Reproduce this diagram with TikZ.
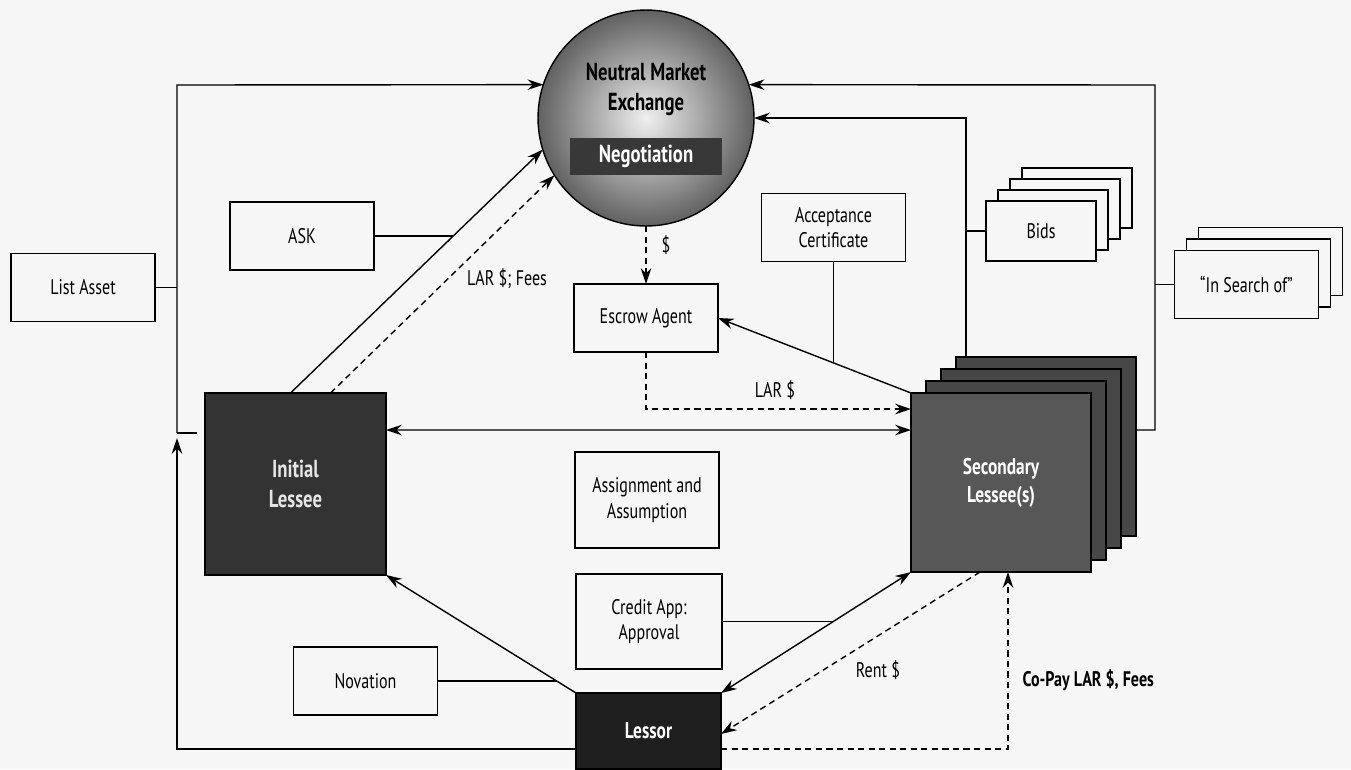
\documentclass[tikz,border=0pt]{standalone}
\usepackage{fontspec}
\setmainfont{PT Sans}[FakeStretch=0.76]
\usetikzlibrary{arrows.meta,calc}
\tikzset{>={Stealth[length=9pt,width=6pt]}}
\tikzset{
  box/.style={draw, line width=0.9pt, fill=gray!7, align=center, inner sep=0pt, outer sep=0pt,
    minimum width=2.88cm, minimum height=1.36cm, font=\fontsize{12}{14.4}\selectfont},
  darkbox/.style={draw=black, line width=0.9pt, fill=black!80, text=white!90!black, align=center,
    inner sep=0pt, outer sep=0pt, font=\bfseries\fontsize{14}{17}\selectfont},
  lbl/.style={inner sep=0pt, font=\fontsize{12}{14.4}\selectfont},
  money/.style={dash pattern=on 3.5pt off 2.5pt}
}

\begin{document}
\begin{tikzpicture}[x=0.02cm, y=-0.02cm, line width=0.8pt]
  \path[use as bounding box, fill=gray!7] (0,0) rectangle (1351,769);

  % the exchange
  \node[circle, draw, minimum size=4.32cm, inner sep=0pt, outer sep=0pt,
    inner color=gray!12, outer color=black!62] (nme) at (646,118) {};
  \node[align=center, font=\bfseries\fontsize{14}{17}\selectfont] (nmetitle) at (646,89) {Neutral Market\\Exchange};
  \node[fill=black!78, text=white, minimum width=3.04cm, minimum height=0.74cm, inner sep=0pt,
    font=\bfseries\fontsize{14}{17}\selectfont] (nego) at (646,156) {Negotiation};

  \node[box] (listasset) at (83,287.5) {List Asset};
  \node[box] (ask) at (302,236) {ASK};
  \node[box] (escrow) at (646,318) {Escrow Agent};
  \node[box] (accept) at (833.5,227.5) {Acceptance\\Certificate};
  \node[box, minimum height=1.92cm] (assign) at (647,500) {Assignment and\\Assumption};
  \node[box, minimum width=2.92cm, minimum height=1.9cm] (credit) at (649,621.5) {Credit App:\\Approval};
  \node[box] (novation) at (365.5,681) {Novation};

  \node[darkbox, minimum width=3.62cm, minimum height=3.64cm] (initial) at (295.5,484) {Initial\\Lessee};
  \node[darkbox, fill=black!88, text=white, minimum width=2.9cm, minimum height=1.52cm,
    font=\bfseries\fontsize{13}{15.6}\selectfont] (lessor) at (648.5,731) {Lessor};

  % stacks
  \foreach \k in {3,2,1}
    \node[darkbox, fill=black!72, minimum width=3.6cm, minimum height=3.58cm] (sec\k) at ($(1001,482.5)+\k*(15,-12)$) {};
  \node[darkbox, fill=black!66, text=white, minimum width=3.6cm, minimum height=3.58cm,
    font=\bfseries\fontsize{13}{16}\selectfont] (sec) at (1001,482.5) {Secondary\\Lessee(s)};

  \foreach \k in {3,2,1}
    \node[box, minimum width=2.2cm, minimum height=1.2cm] (bids\k) at ($(1041,231)+\k*(12,-11)$) {};
  \node[box, minimum width=2.2cm, minimum height=1.2cm] (bids) at (1041,231) {Bids};

  \foreach \k in {2,1}
    \node[box] (search\k) at ($(1246.5,284.5)+\k*(12,-11.5)$) {};
  \node[box] (search) at (1246.5,284.5) {“In Search of”};

  % left side
  \coordinate (spinetop) at (177,85);
  \coordinate (spinebot) at (177,749);
  \coordinate (spinejoin) at (177,433);
  \draw (listasset.east) -- (listasset.east -| spinetop);
  \draw[->] (spinejoin) -- (spinetop) -- (nme.162);
  \draw[->] (spinebot -| lessor.west) -- (spinebot) -- ($(spinejoin)+(0,5)$);
  \draw (spinejoin) -- +(20,0);

  \draw[->] ($(initial.north)+(-5,0)$) -- coordinate[pos=0.646] (askjoin) (nme.197);
  \draw (ask.east) -- (ask.east -| askjoin);
  \draw[->, money] ($(initial.north)+(35,0)$) -- (nme.212);
  \node[lbl] (larfees) at (507,279) {LAR \$; Fees};

  % escrow
  \draw[->, money] (nme.south) -- (escrow.north);
  \node[lbl] (dollar) at (666,245) {\$};
  \draw[->, money] (escrow.south) |- ($(sec.north west)+(0,16)$);
  \node[lbl] (lar) at (775,390) {LAR \$};
  \draw[->] (sec.north west) -- coordinate[pos=0.4] (accjoin) (escrow.east);
  \draw (accept.south) -- (accept.south |- accjoin);

  % right side
  \coordinate (bidsx) at (966,116);
  \coordinate (rtop) at (1155,85);
  \draw[->] (sec3.north -| bidsx) |- (nme.east);
  \draw (bids.west) -- (bids.west -| bidsx);
  \draw[->] ($(sec3.north east)+(0,73)$) -| (rtop) -- (nme.18);
  \draw (search.west) -- (search.west -| rtop);

  \draw[<->] ($(initial.north east)+(0,37)$) -- ($(sec.north west)+(0,37)$);

  % lessor
  \draw[<->] (lessor.north east) -- coordinate[pos=0.591] (credjoin) (sec.south west);
  \draw (credit.east) -- (credit.east -| credjoin);
  \draw[->] (lessor.north west) -- coordinate[pos=0.1] (novjoin) (initial.south east);
  \draw (novation.east) -- (novation.east -| novjoin);
  \draw[->, money] ($(sec.south west)+(69,0)$) -- ($(lessor.east)+(0,3)$);
  \node[lbl] (rent) at (878,670) {Rent \$};
  \draw[->, money] ($(lessor.east)+(0,18)$) -| ($(sec.south)+(7,0)$);
  \node[lbl, anchor=west, font=\bfseries\fontsize{12}{14.4}\selectfont] (copay) at (1022,680) {Co-Pay LAR \$, Fees};
\end{tikzpicture}
\end{document}
